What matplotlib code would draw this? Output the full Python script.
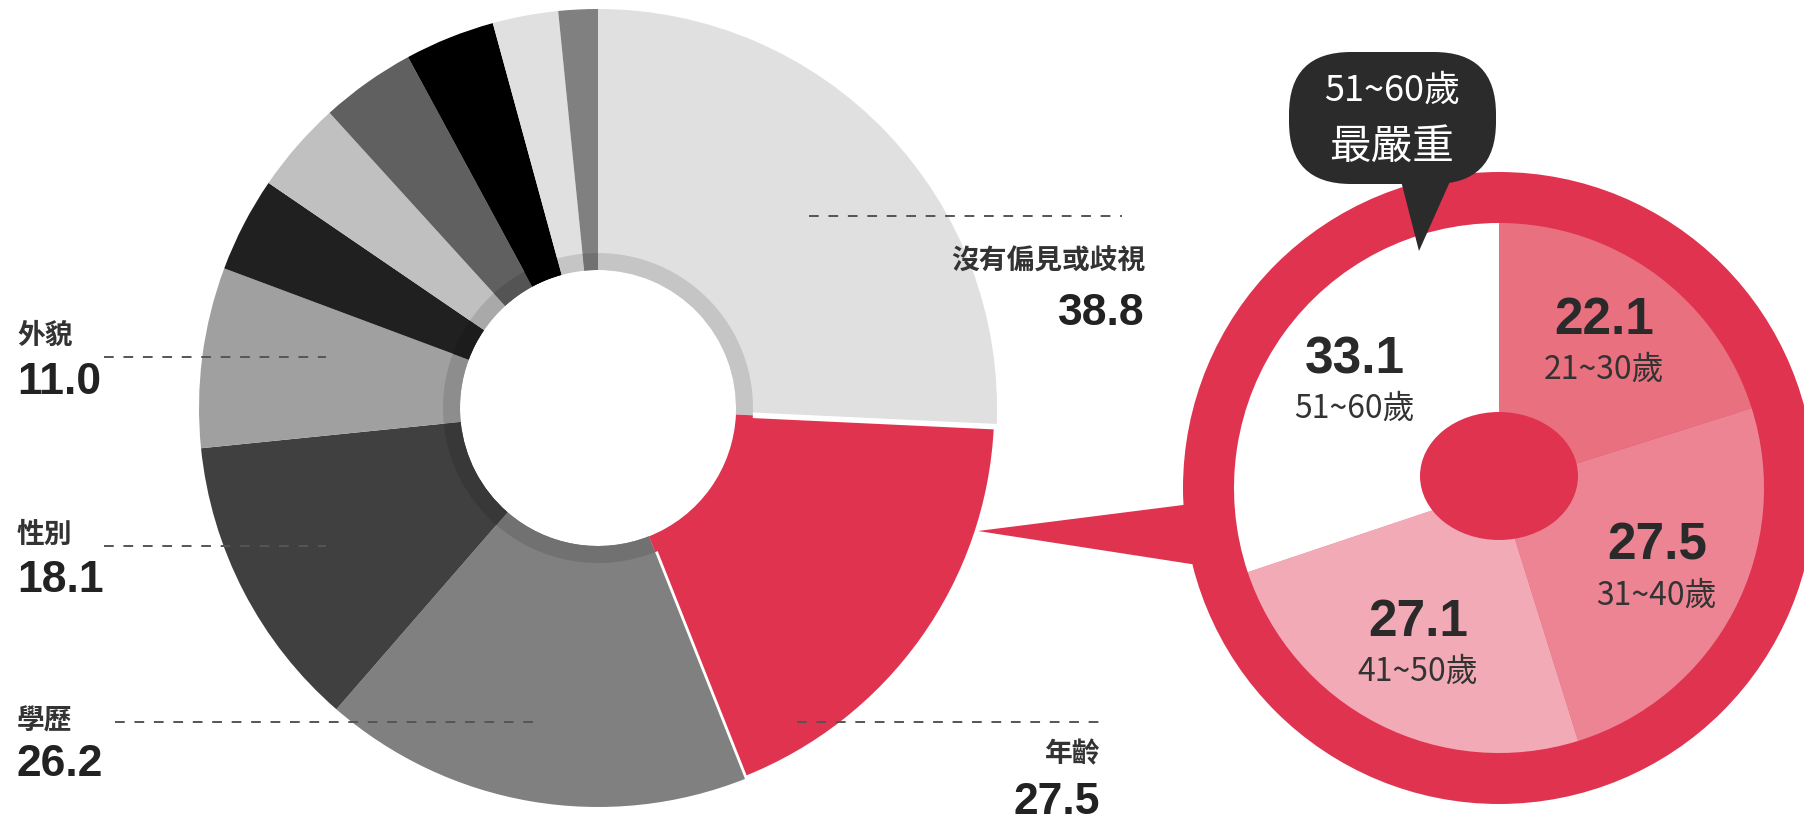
"""Donut chart of workplace discrimination types, with the age slice broken down."""

import matplotlib

matplotlib.use("Agg")
import matplotlib.pyplot as plt
import numpy as np
from matplotlib.colors import to_rgb
from matplotlib.patches import Ellipse, Circle, FancyBboxPatch, Polygon

CJK = ["Noto Sans CJK TC", "DejaVu Sans"]
NUM = ["Liberation Sans", "DejaVu Sans"]
INK = "#333333"
RED = "#e03350"

# main donut, clockwise from 12 o'clock; the unnamed slices carry no label
types = ["沒有偏見或歧視", "年齡", "學歷", "性別", "外貌", "", "", "", "", "", ""]
type_values = [38.8, 27.5, 26.2, 18.1, 11.0, 5.8, 5.6, 5.8, 5.5, 4.0, 2.4]
type_colors = ["#e0e0e0", RED, "#808080", "#404040", "#a0a0a0", "#202020",
               "#c0c0c0", "#606060", "#000000", "#e0e0e0", "#808080"]

# breakdown of the 年齡 slice
ages = ["21~30歲", "31~40歲", "41~50歲", "51~60歲"]
age_values = [22.1, 27.5, 27.1, 33.1]
age_colors = ["#e8707f", "#ec8494", "#f2abb6", "#ffffff"]
worst_age = "51~60歲"

W, H = 1804, 822


def darker(c, f=0.88):
    return tuple(v * f for v in to_rgb(c))


def main() -> None:
    fig = plt.figure(figsize=(W / 100, H / 100), dpi=100)
    ax = fig.add_axes([0, 0, 1, 1])

    # ---- left donut ----
    c1, r1, hole, band = (598, 414), 399, 138, 155
    explode = [0.04 if t == "年齡" else 0 for t in types]
    wedges, _ = ax.pie(type_values, colors=type_colors, startangle=90, counterclock=False,
                       radius=r1, center=c1, explode=explode, frame=True,
                       wedgeprops=dict(width=r1 - hole, linewidth=0))
    red_i = types.index("年齡")
    wedges[red_i].set_edgecolor("white")
    wedges[red_i].set_linewidth(4)
    # slightly darker band round the hole
    band_colors = [c if i == red_i else darker(c) for i, c in enumerate(type_colors)]
    ax.pie(type_values, colors=band_colors, startangle=90, counterclock=False,
           radius=band, center=c1, explode=[e * r1 / band for e in explode], frame=True,
           wedgeprops=dict(width=band - hole, linewidth=0))

    # labels: (x, y of name, ha, dash x0, x1, dash y, y of value)
    layout = {
        "沒有偏見或歧視": (1145, 560, "right", 809, 1122, 606, 509),
        "外貌": (17, 486, "left", 104, 326, 465, 440),
        "性別": (17, 287, "left", 104, 326, 276, 241),
        "學歷": (17, 100, "left", 115, 541, 100, 57),
        "年齡": (1100, 68, "right", 797, 1104, 100, 20),
    }
    for name, (x, y, ha, x0, x1, dy, vy) in layout.items():
        val = type_values[types.index(name)]
        ax.plot([x0, x1], [dy, dy], color="#555555", lw=1.4, ls=(0, (5, 5)), zorder=5)
        ax.text(x, y, name, ha=ha, va="center", fontsize=20, fontweight="bold",
                color=INK, family=CJK, zorder=6)
        ax.text(x, vy, f"{val:.1f}", ha=ha, va="center", fontsize=32, fontweight="bold",
                color="#222222", family=NUM, zorder=6)

    # ---- right circle: age breakdown ----
    c2, ring, r2 = (1499, 334), 316, 265
    ax.add_patch(Polygon([(978, 291), (1191, 318), (1260, 318), (1260, 258), (1191, 258)],
                         closed=True, color=RED, lw=0, zorder=2))
    ax.add_patch(Circle(c2, ring, color=RED, lw=0, zorder=2))
    aw, _ = ax.pie(age_values, colors=age_colors, startangle=90, counterclock=False,
                   radius=r2, center=c2, frame=True, wedgeprops=dict(linewidth=0, zorder=3))
    ax.add_patch(Ellipse((c2[0], c2[1] + 12), 158, 128, color=RED, lw=0, zorder=4))
    for w, label, val in zip(aw, ages, age_values):
        mid = np.deg2rad((w.theta1 + w.theta2) / 2)
        x = c2[0] + 178 * np.cos(mid)
        y = c2[1] + 178 * np.sin(mid)
        ax.text(x, y + 24, f"{val:.1f}", ha="center", va="center", fontsize=37,
                fontweight="bold", color="#2a2a2a", family=NUM, zorder=6)
        ax.text(x, y - 25, label, ha="center", va="center", fontsize=23,
                color=INK, family=CJK, zorder=6)

    # callout bubble
    ax.add_patch(FancyBboxPatch((1289, 638), 207, 132, boxstyle="round,pad=0,rounding_size=62",
                                fc="#2b2b2b", ec="none", zorder=7))
    ax.add_patch(Polygon([(1400, 645), (1452, 645), (1419, 571)], closed=True,
                         fc="#2b2b2b", ec="none", zorder=7))
    ax.text(1392, 731, worst_age, ha="center", va="center", fontsize=26, color="white",
            family=CJK, zorder=8)
    ax.text(1392, 675, "最嚴重", ha="center", va="center", fontsize=30, color="white",
            family=CJK, zorder=8)

    ax.set_xlim(0, W)
    ax.set_ylim(0, H)
    ax.set_aspect("equal")
    ax.axis("off")
    fig.savefig("out.png", dpi=100, facecolor="white")
    plt.close(fig)


if __name__ == "__main__":
    main()
